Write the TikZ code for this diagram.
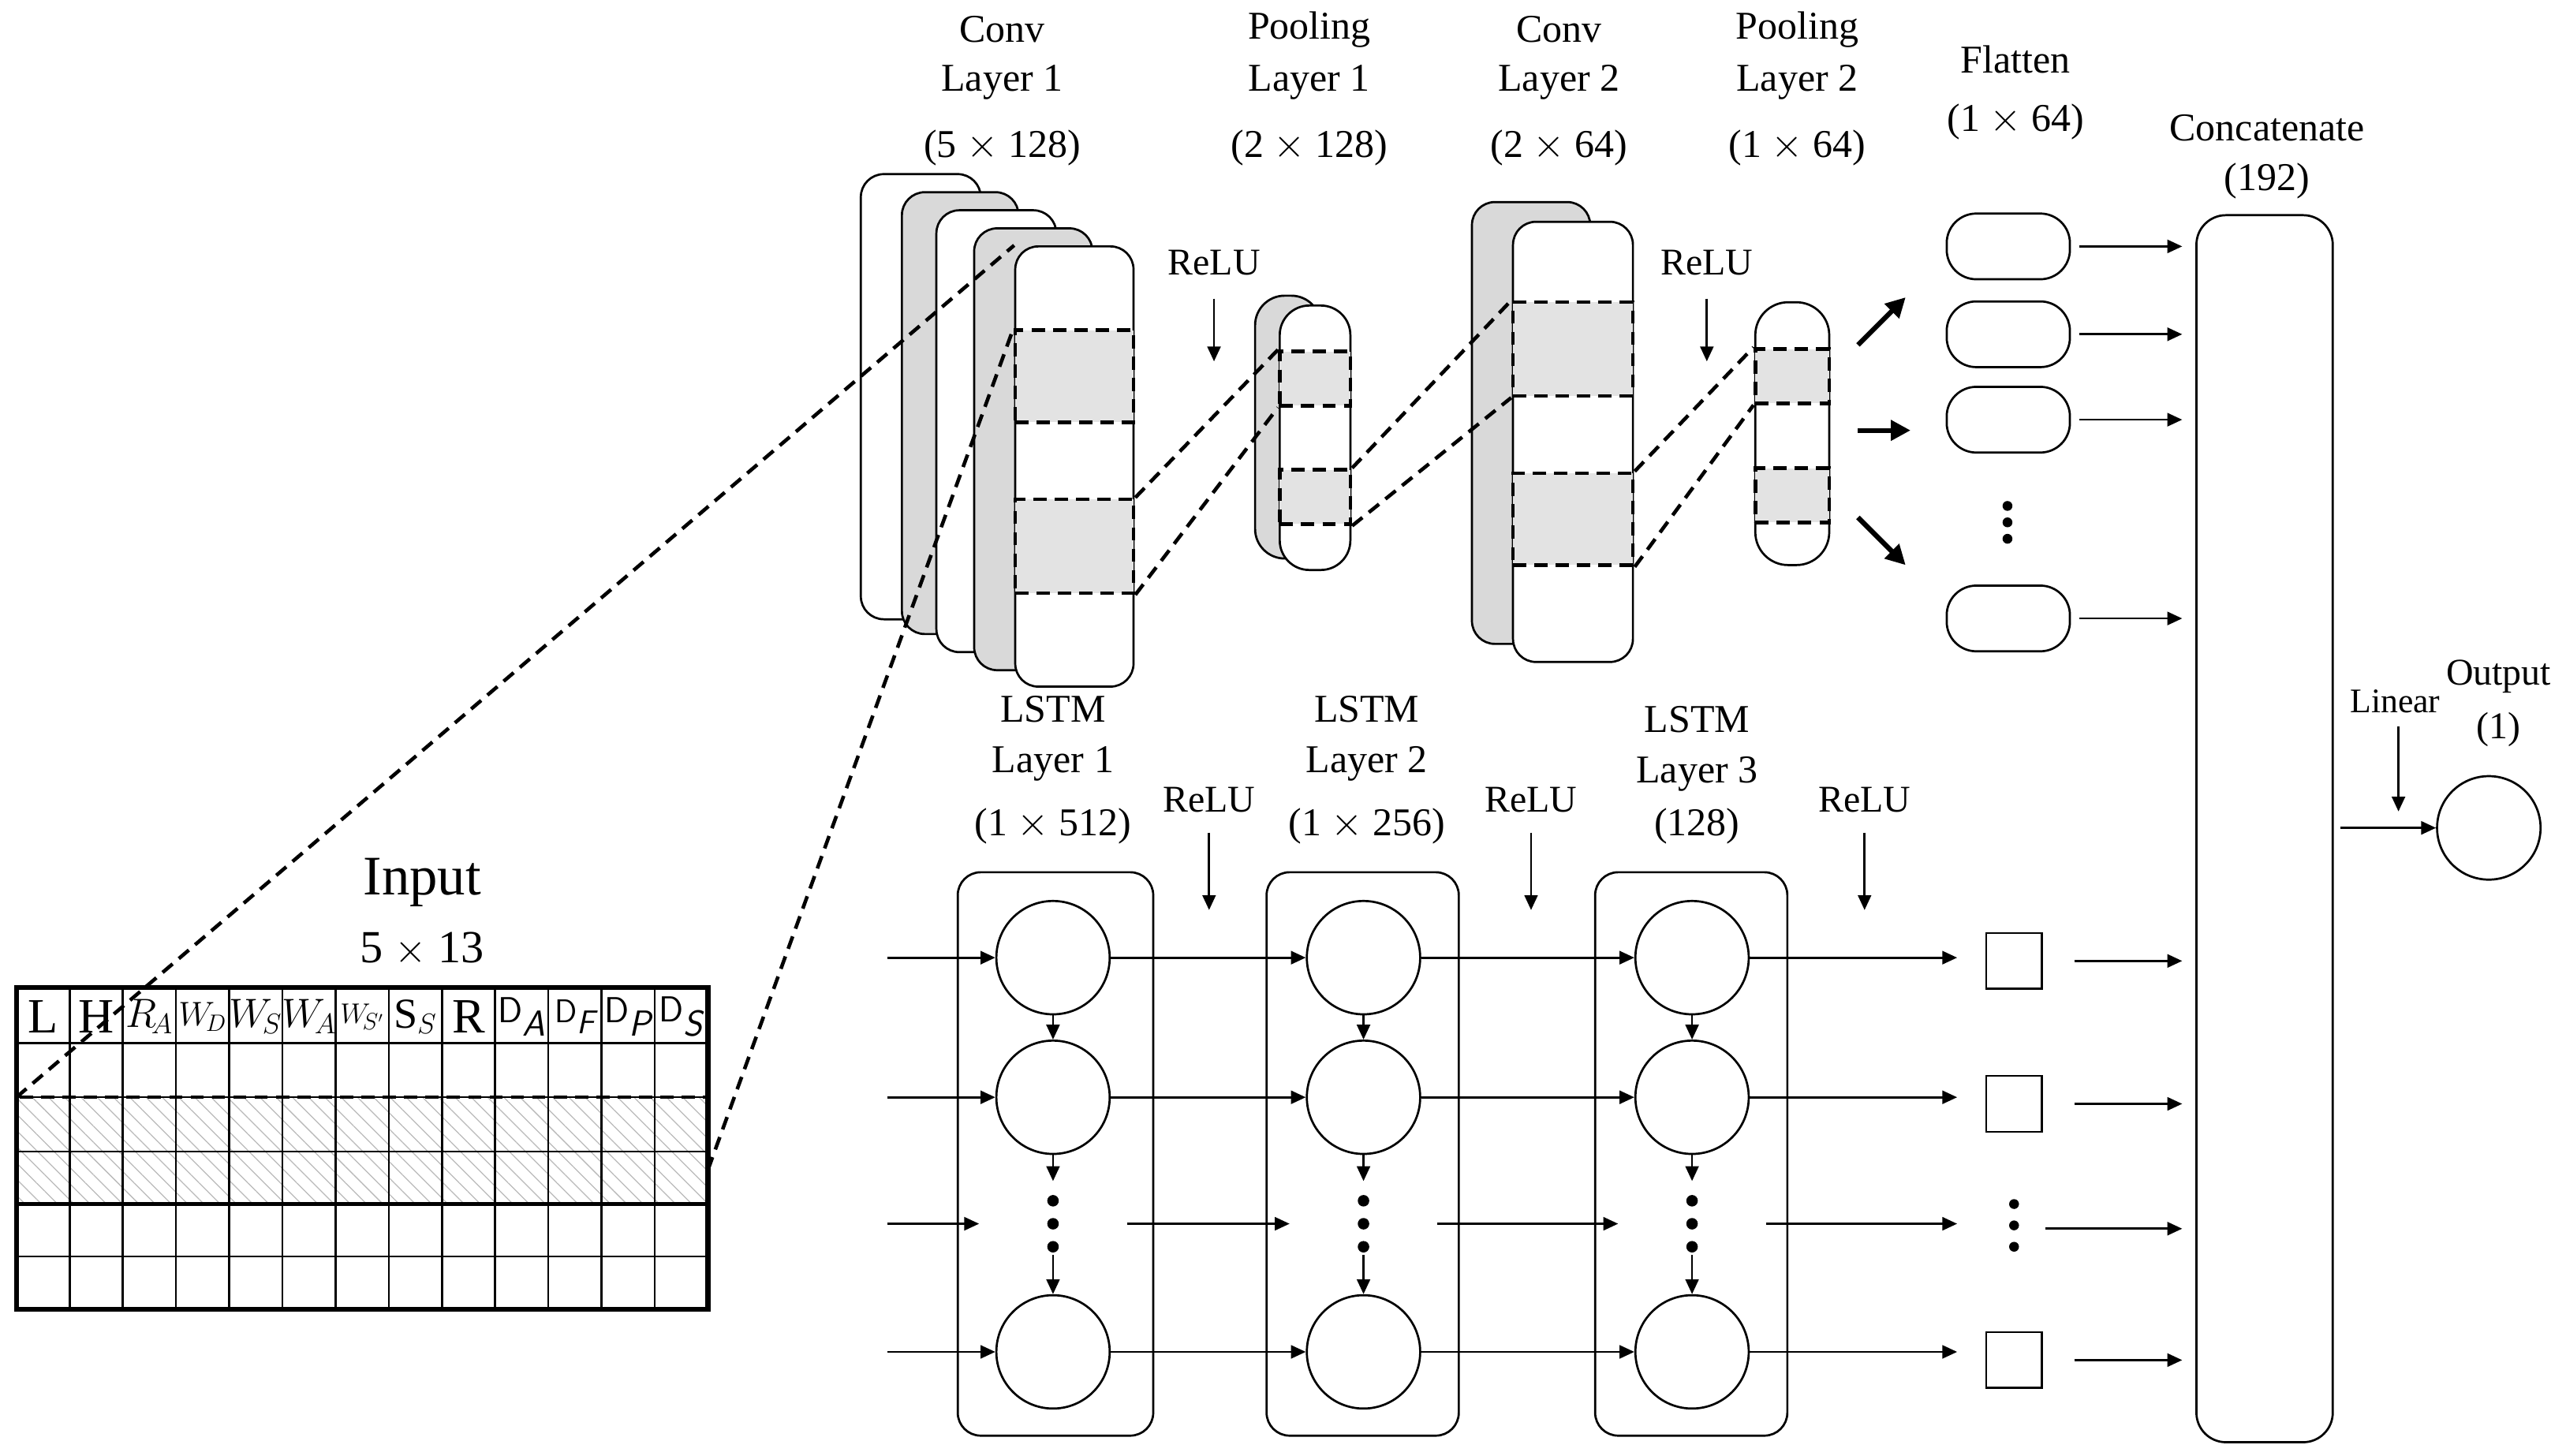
\documentclass[tikz,border=0pt]{standalone}
\usepackage{fontspec}
\setmainfont{Liberation Serif}
\usetikzlibrary{arrows.meta,patterns.meta}
\begin{document}
\begin{tikzpicture}[x=1pt,y=-1pt,
  lay/.style={draw,line width=1.3,rounded corners=14,inner sep=0},
  win/.style={draw,line width=2.2,dash pattern=on 8 off 5,fill=gray!22,inner sep=0},
  dl/.style={line width=2.2,dash pattern=on 8 off 5},
  arr/.style={-{Triangle[length=9,width=8]},line width=1.3},
  barr/.style={-{Triangle[length=12,width=12]},line width=3},
  lbl/.style={font=\fontsize{24}{26}\selectfont,inner sep=0},
  rl/.style={font=\fontsize{23}{25}\selectfont,inner sep=0},
  cell/.style={draw,circle,line width=1.3,minimum size=69,inner sep=0},
  sq/.style={draw,line width=1.3,minimum size=34,inner sep=0},
  fl/.style={draw,line width=1.3,rounded corners=18,minimum width=75,minimum height=40,inner sep=0},
  dot/.style={circle,fill,inner sep=0,minimum size=7}]
\useasboundingbox (0,0) rectangle (1562,886);
% ---------- Input table ----------
\fill[pattern={Lines[angle=-45,distance=7pt,line width=0.6pt]},pattern color=gray!55] (10,668) rectangle (431,733);
\foreach \i in {1,...,12} \draw[line width=1.2] (10+\i*32.38,601) -- (10+\i*32.38,797);
\foreach \y in {635,668,701,765} \draw[line width=1.2] (10,\y) -- (431,\y);
\draw[line width=2.4] (10,733) -- (431,733);
\draw[dl] (10,668) rectangle (431,733);
\draw[line width=3] (10,601) rectangle (431,797);
\coordinate (hNW) at (10,668);
\coordinate (hE) at (431,712);
\node[font=\fontsize{34}{36}\selectfont] (inp) at (257,537) {Input};
\node[font=\fontsize{28}{30}\selectfont] (inps) at (257,578) {5 $\times$ 13};
\foreach \t [count=\i] in {%
  {\fontsize{30}{30}\selectfont L},{\fontsize{30}{30}\selectfont H},
  {\fontsize{26}{26}\selectfont$R_{\!A}$},{\fontsize{20}{20}\selectfont$W_{\!D}$},
  {\fontsize{24}{24}\selectfont$W_{\!S}$},{\fontsize{24}{24}\selectfont$W_{\!A}$},
  {\fontsize{19}{19}\selectfont$W_{\!S'}$},{\fontsize{26}{26}\selectfont S$_S$},
  {\fontsize{30}{30}\selectfont R},{\fontsize{22}{22}\selectfont\sffamily D$_{\textit{A}}$},
  {\fontsize{20}{20}\selectfont\sffamily D$_{\textit{F}}$},{\fontsize{22}{22}\selectfont\sffamily D$_{\textit{P}}$},
  {\fontsize{22}{22}\selectfont\sffamily D$_{\textit{S}}$}}
  \node[inner sep=0] (h\i) at (10+\i*32.38-16.19,619) {\t};
% ---------- Conv layer 1 ----------
\node[lay,fill=white,minimum width=73,minimum height=271] (c1a) at (560.5,241.5) {};
\node[lay,fill=gray!30,minimum width=71,minimum height=269] (c1b) at (584.5,251.5) {};
\node[lay,fill=white,minimum width=73,minimum height=269] (c1c) at (606.5,262.5) {};
\node[lay,fill=gray!30,minimum width=72,minimum height=269] (c1d) at (629,273.5) {};
\node[lay,fill=white,minimum width=72,minimum height=268] (c1e) at (654,284) {};
\node[win,minimum width=72,minimum height=56] (w1a) at (654,229) {};
\node[win,minimum width=72,minimum height=57] (w1b) at (654,332.5) {};
% ---------- Pooling 1 ----------
\node[lay,rounded corners=18,fill=gray!30,minimum width=40,minimum height=160] (p1a) at (784,260) {};
\node[lay,rounded corners=18,fill=white,minimum width=43,minimum height=161] (p1b) at (800.5,266.5) {};
\node[win,minimum width=43,minimum height=33] (wp1a) at (800.5,230.5) {};
\node[win,minimum width=43,minimum height=33] (wp1b) at (800.5,302.5) {};
% ---------- Conv 2 ----------
\node[lay,fill=gray!30,minimum width=72,minimum height=269] (c2a) at (932,257.5) {};
\node[lay,fill=white,minimum width=73,minimum height=268] (c2b) at (957.5,269) {};
\node[win,minimum width=73,minimum height=57] (w2a) at (957.5,212.5) {};
\node[win,minimum width=73,minimum height=56] (w2b) at (957.5,316) {};
% ---------- Pooling 2 ----------
\node[lay,rounded corners=20,fill=white,minimum width=45,minimum height=160] (p2) at (1091,264) {};
\node[win,minimum width=45,minimum height=33] (wp2a) at (1091,229) {};
\node[win,minimum width=45,minimum height=33] (wp2b) at (1091,301.5) {};
% ---------- dashed connectors ----------
\draw[dl] (hNW) -- (c1e.north west);
\draw[dl] (hE) -- (w1a.north west);
\draw[dl] (w1b.north east) -- (wp1a.north west);
\draw[dl] (w1b.south east) -- (wp1a.south west);
\draw[dl] (wp1b.north east) -- (w2a.north west);
\draw[dl] (wp1b.south east) -- (w2a.south west);
\draw[dl] (w2b.north east) -- (wp2a.north west);
\draw[dl] (w2b.south east) -- (wp2a.south west);
% ---------- titles ----------
\node[lbl] (t1a) at (610,18) {Conv};
\node[lbl] (t1b) at (610,50) {Layer 1};
\node[lbl] (t1c) at (610,90) {(5 $\times$ 128)};
\node[lbl] (t2a) at (797,18) {Pooling};
\node[lbl] (t2b) at (797,50) {Layer 1};
\node[lbl] (t2c) at (797,90) {(2 $\times$ 128)};
\node[lbl] (t3a) at (949,18) {Conv};
\node[lbl] (t3b) at (949,50) {Layer 2};
\node[lbl] (t3c) at (949,90) {(2 $\times$ 64)};
\node[lbl] (t4a) at (1094,18) {Pooling};
\node[lbl] (t4b) at (1094,50) {Layer 2};
\node[lbl] (t4c) at (1094,90) {(1 $\times$ 64)};
\node[lbl] (t5a) at (1227,36) {Flatten};
\node[lbl] (t5b) at (1227,74) {(1 $\times$ 64)};
\node[lbl] (t6a) at (1380,78) {Concatenate};
\node[lbl] (t6b) at (1380,110) {(192)};
% ReLU conv
\node[rl] (r1) at (739,160) {ReLU};
\coordinate (r1e) at (739,220);
\draw[arr] ([yshift=-14]r1.south) -- (r1e);
\node[rl] (r2) at (1039,160) {ReLU};
\coordinate (r2e) at (1039,220);
\draw[arr] ([yshift=-14]r2.south) -- (r2e);
% ---------- flatten ----------
\coordinate (fa1) at (1131,210); \coordinate (fa2) at (1160,181);
\coordinate (fb1) at (1131,262); \coordinate (fb2) at (1163,262);
\coordinate (fc1) at (1131,315); \coordinate (fc2) at (1160,344);
\draw[barr] (fa1) -- (fa2);
\draw[barr] (fb1) -- (fb2);
\draw[barr] (fc1) -- (fc2);
\node[fl] (f1) at (1222.5,150) {};
\node[fl] (f2) at (1222.5,203.5) {};
\node[fl] (f3) at (1222.5,255.5) {};
\node[fl] (f4) at (1222.5,376.5) {};
\node[dot,minimum size=6] (fd1) at (1222,308) {};
\node[dot,minimum size=6] (fd2) at (1222,318) {};
\node[dot,minimum size=6] (fd3) at (1222,328) {};
% ---------- concatenate ----------
\node[lay,rounded corners=18,minimum width=83,minimum height=747] (cat) at (1378.5,504.5) {};
\foreach \f in {f1,f2,f3,f4}
  \draw[arr] ([xshift=5]\f.east) -- ([xshift=-8]cat.west |- \f);
% ---------- LSTM ----------
\node[lay,minimum width=119,minimum height=343] (L1) at (642.5,702.5) {};
\node[lay,minimum width=117,minimum height=343] (L2) at (829.5,702.5) {};
\node[lay,minimum width=117,minimum height=343] (L3) at (1029.5,702.5) {};
\foreach \c/\x in {1/641,2/830,3/1030}{
  \node[cell] (l\c1) at (\x,583) {};
  \node[cell] (l\c2) at (\x,668) {};
  \node[cell] (l\c3) at (\x,823) {};
  \coordinate (d\c) at (\x,719);
  \coordinate (e\c) at (\x,764);
  \coordinate (m\c) at (\x-45,745);
  \coordinate (n\c) at (\x+45,745);
  \node[dot] (dd\c a) at (\x,731) {};
  \node[dot] (dd\c b) at (\x,745) {};
  \node[dot] (dd\c c) at (\x,759) {};
  \draw[arr] (l\c1.south) -- (l\c2.north);
  \draw[arr] (l\c2.south) -- (d\c);
  \draw[arr] (e\c) -- (l\c3.north);
}
\node[lbl] (lt1a) at (641,432) {LSTM};
\node[lbl] (lt1b) at (641,465) {Layer 1};
\node[lbl] (lt1c) at (641,503) {(1 $\times$ 512)};
\node[lbl] (lt2a) at (832,432) {LSTM};
\node[lbl] (lt2b) at (832,465) {Layer 2};
\node[lbl] (lt2c) at (832,503) {(1 $\times$ 256)};
\node[lbl] (lt3a) at (1033,438) {LSTM};
\node[lbl] (lt3b) at (1033,471) {Layer 3};
\node[lbl] (lt3c) at (1033,503) {(128)};
\foreach \x [count=\i] in {736,932,1135}{
  \node[rl] (lr\i) at (\x,487) {ReLU};
  \coordinate (lre\i) at (\x,554);
  \draw[arr] ([yshift=-12]lr\i.south) -- (lre\i);
}
% squares
\node[sq] (s1) at (1226,585) {};
\node[sq] (s2) at (1226,672) {};
\node[sq] (s3) at (1226,828) {};
\node[dot,minimum size=6] (sd1) at (1226,733) {};
\node[dot,minimum size=6] (sd2) at (1226,746) {};
\node[dot,minimum size=6] (sd3) at (1226,759) {};
\coordinate (s4) at (1226,748);
% horizontal LSTM arrows
\foreach \r in {1,2,3}{
  \coordinate (in\r) at (540,0 |- l1\r);
  \draw[arr] (in\r) -- (l1\r.west);
  \draw[arr] (l1\r.east) -- (l2\r.west);
  \draw[arr] (l2\r.east) -- (l3\r.west);
  \draw[arr] (l3\r.east) -- ([xshift=-17]s\r.west |- l3\r);
}
\coordinate (in4) at (540,745);
\draw[arr] (in4) -- (m1);
\draw[arr] (n1) -- (m2);
\draw[arr] (n2) -- (m3);
\draw[arr] (n3) -- ([xshift=-17]s1.west |- n3);
\foreach \s in {s1,s2,s3,s4}
  \draw[arr] ([xshift=19]\s.east) -- ([xshift=-8]cat.west |- \s);
% ---------- output ----------
\node[draw,circle,line width=1.3,minimum size=63,inner sep=0] (o) at (1515,504) {};
\draw[arr] ([xshift=4]cat.east |- o) -- (o.west);
\node[rl,font=\fontsize{21}{23}\selectfont] (lin) at (1458,427) {Linear};
\coordinate (line) at (1460,494);
\draw[arr] (1460,442) -- (line);
\node[rl,font=\fontsize{23}{25}\selectfont] (ot) at (1521,412) {Output};
\node[rl,font=\fontsize{23}{25}\selectfont] (ot2) at (1521,444) {(1)};
\end{tikzpicture}
\end{document}
